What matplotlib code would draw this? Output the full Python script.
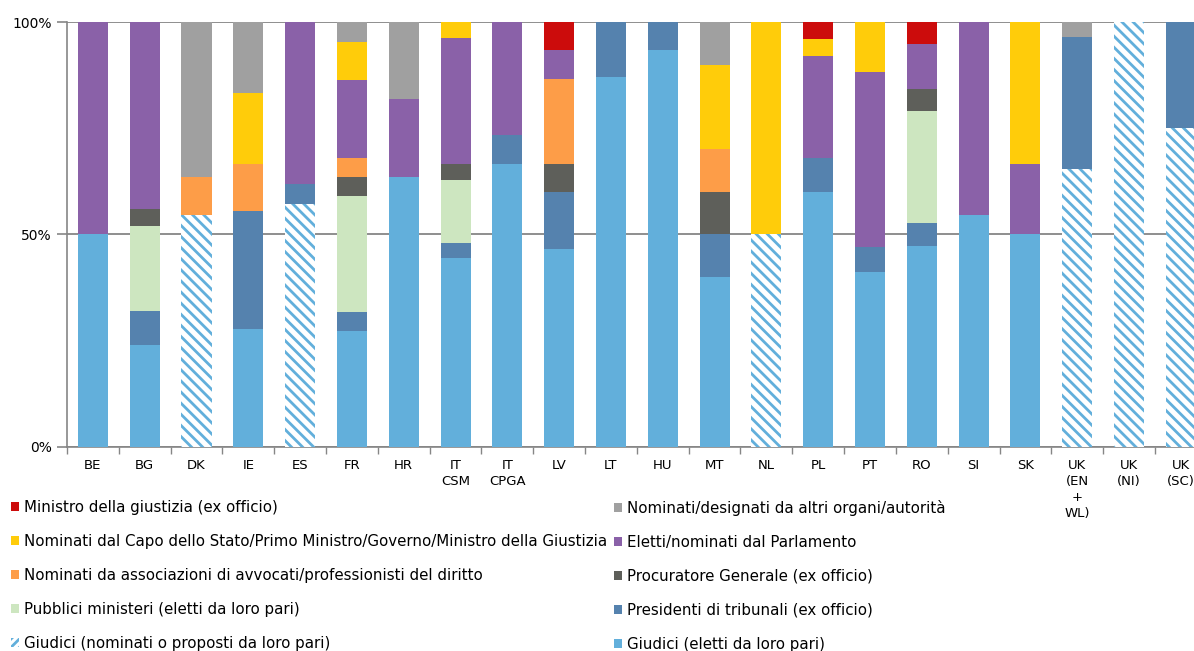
import numpy as np
import matplotlib
matplotlib.use("Agg")
import matplotlib.pyplot as plt
from matplotlib.patches import Patch

# categorie (paesi)
paesi = ["BE", "BG", "DK", "IE", "ES", "FR", "HR", "IT\nCSM", "IT\nCPGA", "LV", "LT", "HU",
         "MT", "NL", "PL", "PT", "RO", "SI", "SK", "UK\n(EN\n+\nWL)", "UK\n(NI)", "UK\n(SC)"]

# quote (%) per ogni categoria di membri, dal basso verso l'alto
giudici_eletti = [50, 24, 0, 27.8, 0, 27.3, 63.6, 44.4, 66.7, 46.7, 87.0, 93.3,
                  40, 0, 60, 41.2, 47.4, 54.5, 50, 0, 0, 0]
giudici_nominati = [0, 0, 54.5, 0, 57.1, 0, 0, 0, 0, 0, 0, 0,
                    0, 50, 0, 0, 0, 0, 0, 65.5, 100, 75]
presidenti = [0, 8, 0, 27.8, 4.8, 4.5, 0, 3.7, 6.7, 13.3, 13.0, 6.7,
              10, 0, 8, 5.9, 5.3, 0, 0, 31.0, 0, 25]
pubblici_ministeri = [0, 20, 0, 0, 0, 27.3, 0, 14.8, 0, 0, 0, 0,
                      0, 0, 0, 0, 26.3, 0, 0, 0, 0, 0]
procuratore = [0, 4, 0, 0, 0, 4.5, 0, 3.7, 0, 6.7, 0, 0,
               10, 0, 0, 0, 5.3, 0, 0, 0, 0, 0]
associazioni = [0, 0, 9.1, 11.1, 0, 4.5, 0, 0, 0, 20, 0, 0,
                10, 0, 0, 0, 0, 0, 0, 0, 0, 0]
parlamento = [50, 44, 0, 0, 38.1, 18.2, 18.2, 29.6, 26.7, 6.7, 0, 0,
              0, 0, 24, 41.2, 10.5, 45.5, 16.7, 0, 0, 0]
capo_stato = [0, 0, 0, 16.7, 0, 9.1, 0, 3.7, 0, 0, 0, 0,
              20, 50, 4, 11.8, 0, 0, 33.3, 0, 0, 0]
altri_organi = [0, 0, 36.4, 16.7, 0, 4.5, 18.2, 0, 0, 0, 0, 0,
                10, 0, 0, 0, 0, 0, 0, 3.4, 0, 0]
ministro = [0, 0, 0, 0, 0, 0, 0, 0, 0, 6.7, 0, 0,
            0, 0, 4, 0, 5.3, 0, 0, 0, 0, 0]

serie = [
    (giudici_eletti, "Giudici (eletti da loro pari)", "#62AFDB", None),
    (giudici_nominati, "Giudici (nominati o proposti da loro pari)", "white", "\\\\\\"),
    (presidenti, "Presidenti di tribunali (ex officio)", "#5582AE", None),
    (pubblici_ministeri, "Pubblici ministeri (eletti da loro pari)", "#CDE6C0", None),
    (procuratore, "Procuratore Generale (ex officio)", "#5E5F5A", None),
    (associazioni, "Nominati da associazioni di avvocati/professionisti del diritto", "#FD9D48", None),
    (parlamento, "Eletti/nominati dal Parlamento", "#8A61A8", None),
    (capo_stato, "Nominati dal Capo dello Stato/Primo Ministro/Governo/Ministro della Giustizia", "#FFCC0A", None),
    (altri_organi, "Nominati/designati da altri organi/autorità", "#A0A0A0", None),
    (ministro, "Ministro della giustizia (ex officio)", "#CC0C0C", None),
]

plt.rcParams['font.family'] = ['DejaVu Sans']
plt.rcParams['hatch.linewidth'] = 2.0

fig = plt.figure(figsize=(11.94, 6.51), dpi=100)
ax = fig.add_axes([0.0561, 0.3134, 0.9546, 0.6528])

x = np.arange(len(paesi))
base = np.zeros(len(paesi))
maniglie = {}
for valori, nome, colore, tratteggio in serie:
    v = np.array(valori, dtype=float)
    if tratteggio:
        ax.bar(x, v, 0.58, bottom=base, color="white", edgecolor="#62AFDB",
               hatch=tratteggio, linewidth=0, zorder=3)
        maniglie[nome] = Patch(facecolor="white", edgecolor="#62AFDB", hatch="////", linewidth=0)
    else:
        ax.bar(x, v, 0.58, bottom=base, color=colore, linewidth=0, zorder=3)
        maniglie[nome] = Patch(facecolor=colore, linewidth=0)
    base += v

ax.set_xlim(-0.5, len(paesi) - 0.5)
ax.set_ylim(0, 100)
ax.set_yticks([0, 50, 100])
ax.set_yticklabels(["0%", "50%", "100%"], fontsize=10)
ax.set_xticks(x)
ax.set_xticklabels(paesi, fontsize=9.5, linespacing=1.3, va="top")
ax.set_xticks(np.arange(len(paesi) + 1) - 0.5, minor=True)
ax.tick_params(axis="x", which="major", length=0, pad=9)
ax.tick_params(axis="x", which="minor", length=5, color="#868686", width=1)
ax.tick_params(axis="y", length=7, color="#868686", width=1.2, pad=4)
ax.grid(axis="y", color="#868686", linewidth=1.3, zorder=1)
for s in ["top", "right"]:
    ax.spines[s].set_visible(False)
for s in ["left", "bottom"]:
    ax.spines[s].set_color("#868686")
    ax.spines[s].set_linewidth(1.2)

# legenda in due colonne, come nell'originale
sinistra = ["Ministro della giustizia (ex officio)",
            "Nominati dal Capo dello Stato/Primo Ministro/Governo/Ministro della Giustizia",
            "Nominati da associazioni di avvocati/professionisti del diritto",
            "Pubblici ministeri (eletti da loro pari)",
            "Giudici (nominati o proposti da loro pari)"]
destra = ["Nominati/designati da altri organi/autorità",
          "Eletti/nominati dal Parlamento",
          "Procuratore Generale (ex officio)",
          "Presidenti di tribunali (ex officio)",
          "Giudici (eletti da loro pari)"]

for nomi, xpos in [(sinistra, 11 / 1194), (destra, 614 / 1194)]:
    leg = fig.legend([maniglie[n] for n in nomi], nomi, loc="upper left",
                     bbox_to_anchor=(xpos, 1 - 500 / 651), frameon=False,
                     fontsize=10.8, handlelength=0.55, handleheight=0.55,
                     handletextpad=0.3, labelspacing=1.26, borderpad=0, borderaxespad=0)

fig.savefig("out.png", dpi=100)
